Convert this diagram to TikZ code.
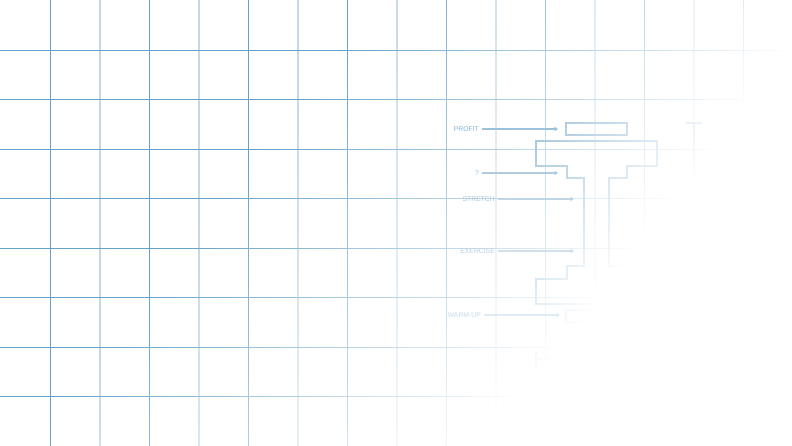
\documentclass[tikz,border=0pt]{standalone}
\usepackage{fontspec}
\setmainfont{Liberation Sans}
\usetikzlibrary{arrows.meta,positioning}

\definecolor{gridline}{RGB}{100,160,200}
\definecolor{gridband}{RGB}{195,215,230}
\definecolor{beamline}{RGB}{45,120,175}
\definecolor{tagtext}{RGB}{45,120,175}

\newcommand\fadeamount[2]{%
  \pgfmathsetmacro\fv{100*min(1,max(0,(835-(#1)-0.78*(#2))/465))}}
\newcommand\fadeseg[6]{%
  \pgfmathtruncatemacro\segn{max(1,ceil(veclen((#5)-(#3),(#6)-(#4))/6))}%
  \foreach \j in {1,...,\segn}{%
    \pgfmathsetmacro\ta{(\j-1)/\segn}%
    \pgfmathsetmacro\tb{\j/\segn}%
    \fadeamount{(#3)+((#5)-(#3))*(\ta+\tb)/2}{(#4)+((#6)-(#4))*(\ta+\tb)/2}%
    \ifdim\fv pt>0.5pt
      \draw[#1!\fv!white, line width=#2, line cap=rect]
        ({(#3)+((#5)-(#3))*\ta},{(#4)+((#6)-(#4))*\ta}) -- ({(#3)+((#5)-(#3))*\tb},{(#4)+((#6)-(#4))*\tb});
    \fi}}

\tikzset{
  tag/.style={text=tagtext!#1!white, font=\fontsize{6.8}{8}\selectfont, inner sep=3pt, anchor=east},
  pointer/.style={tagtext!#1!white, line width=1.3pt, -{Triangle[length=3.5pt,width=4.5pt]}},
}

\begin{document}
\begin{tikzpicture}[x=1pt, y=-1pt]
\useasboundingbox (0,0) rectangle (792,446);
\fill[white] (0,0) rectangle (792,446);
\foreach \gx in {99.5,198.5,...,694} \fadeseg{gridband}{2pt}{\gx}{0}{\gx}{446};
\foreach \gx in {50,149,...,743} \fadeseg{gridline}{0.9pt}{\gx}{0}{\gx}{446};
\foreach \k in {1,...,8} \fadeseg{gridline}{0.9pt}{0}{49.5*\k+0.5}{792}{49.5*\k+0.5};

\foreach \px/\py [remember=\px as \qx (initially 566), remember=\py as \qy (initially 123)]
  in {627/123, 627/135, 566/135, 566/123}
  \fadeseg{beamline}{2.2pt}{\qx}{\qy}{\px}{\py};
\foreach \px/\py [remember=\px as \qx (initially 566), remember=\py as \qy (initially 310)]
  in {627/310, 627/322, 566/322, 566/310}
  \fadeseg{beamline}{2.2pt}{\qx}{\qy}{\px}{\py};
\foreach \px/\py [remember=\px as \qx (initially 536), remember=\py as \qy (initially 166)]
  in {536/141, 657/141, 657/166, 627/166, 627/178, 609/178, 609/266, 627/266, 627/279,
      657/279, 657/304, 536/304, 536/279, 567/279, 567/266, 584/266, 584/178, 567/178,
      567/166, 536/166}
  \fadeseg{beamline}{2.2pt}{\qx}{\qy}{\px}{\py};
\fadeseg{beamline}{1.5pt}{687}{123}{701}{123}
\fadeseg{beamline}{1.5pt}{694}{123}{694}{322}
\fadeseg{beamline}{1.5pt}{687}{322}{701}{322}
\fadeseg{beamline}{1.5pt}{536}{353}{536}{366}
\fadeseg{beamline}{1.5pt}{536}{359}{657}{359}
\fadeseg{beamline}{1.5pt}{657}{353}{657}{366}

\fadeamount{465}{129}\node[tag=\fv] (profit) at (482,129) {PROFIT};
\fadeamount{473}{173}\node[tag=\fv] (unknown) at (482,173) {?};
\fadeamount{477}{199}\node[tag=\fv] (stretch) at (498,199) {STRETCH};
\fadeamount{476}{251}\node[tag=\fv] (exercise) at (498,251) {EXERCISE};
\fadeamount{462}{315}\node[tag=\fv] (warmup) at (484,315) {WARM-UP};
\coordinate (profit-end) at (558,129);
\coordinate (unknown-end) at (558,173);
\coordinate (stretch-end) at (574,199);
\coordinate (exercise-end) at (574,251);
\coordinate (warmup-end) at (560,315);
\fadeamount{520}{129}\draw[pointer=\fv] (profit) -- (profit-end);
\fadeamount{520}{173}\draw[pointer=\fv] (unknown) -- (unknown-end);
\fadeamount{536}{199}\draw[pointer=\fv] (stretch) -- (stretch-end);
\fadeamount{536}{251}\draw[pointer=\fv] (exercise) -- (exercise-end);
\fadeamount{522}{315}\draw[pointer=\fv] (warmup) -- (warmup-end);
\end{tikzpicture}
\end{document}
